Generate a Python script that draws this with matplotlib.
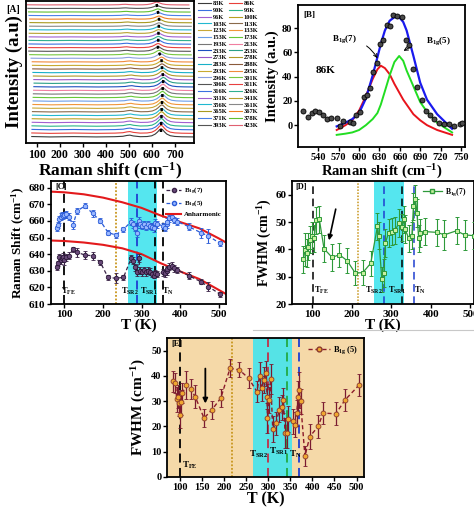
import numpy as np
import matplotlib
matplotlib.use("Agg")
import matplotlib.pyplot as plt
from matplotlib.lines import Line2D

plt.rcParams['font.family'] = ['Liberation Serif', 'DejaVu Serif']
plt.rcParams['font.weight'] = 'bold'
plt.rcParams['axes.labelweight'] = 'bold'
plt.rcParams['mathtext.fontset'] = 'custom'
plt.rcParams['mathtext.rm'] = 'Liberation Serif:bold'
plt.rcParams['mathtext.it'] = 'Liberation Serif:bold'
plt.rcParams['mathtext.bf'] = 'Liberation Serif:bold'
plt.rcParams['axes.linewidth'] = 1.3

# ---------------- data ----------------
# [A] stacked spectra
temps_A = [83, 86, 90, 93, 96, 100, 103, 113, 123, 133, 153, 173, 193, 213, 233, 253, 273, 278, 283,
           288, 293, 295, 296, 301, 306, 311, 316, 326, 331, 341, 356, 361, 365, 367, 371, 378, 393, 423]
centers_A = [639, 639, 640, 640, 641, 641, 642, 642, 643, 644, 645, 645, 646, 647, 648, 649, 648, 646, 644,
             643, 642, 641, 636, 630, 626, 626, 627, 627, 628, 628, 629, 630, 631, 630, 627, 625, 622, 620]
amps_A = [2.3, 2.3, 2.2, 2.2, 2.1, 2.1, 2.0, 2.0, 2.0, 1.9, 1.9, 1.8, 1.8, 1.8, 1.7, 1.7, 1.6, 1.6, 1.5,
          1.5, 1.4, 1.4, 1.4, 1.3, 1.3, 1.2, 1.2, 1.2, 1.1, 1.1, 1.0, 1.0, 1.0, 0.9, 0.9, 0.9, 0.8, 0.8]
prof_x = [80, 160, 260, 360, 440, 475, 492, 505, 520, 550, 580, 600, 615, 625, 633, 640, 647, 655, 665,
          680, 700, 730, 780]
prof_y = [0.05, 0.0, 0.04, 0.0, 0.03, 0.08, 0.18, 0.22, 0.12, 0.03, 0.05, 0.14, 0.35, 0.6, 0.85, 1.0, 0.88,
          0.62, 0.35, 0.15, 0.06, 0.02, 0.0]
colors_A = ['#3a3a3a', '#e8403a', '#3a6fe0', '#2bb58a', '#a25fd0', '#b8a020', '#22b8d0', '#8a6a4a',
            '#c8a838', '#f0963a', '#6c9ee8', '#66c838', '#777777', '#f07fa0', '#1e4fc0', '#2aa088',
            '#9a58c8', '#b09a28', '#18b0c8', '#8a5a3a', '#c8aa30', '#f08a3a', '#8aa0e0', '#78c840',
            '#555555', '#e84040', '#3a70e0', '#30b090', '#a060d0', '#b8a030', '#20b8d0', '#888888',
            '#a89a20', '#f08020', '#4a80e8', '#60c030', '#555555', '#e06070']

# [B] 86K fit
B_x = [518, 525, 530, 535, 541, 547, 552, 558, 567, 572, 577, 586, 591, 596, 601, 607, 612, 616, 621, 626,
       631, 635, 641, 646, 650, 656, 663, 669, 674, 680, 686, 693, 699, 705, 711, 718, 725, 733, 740, 748, 752]
B_y = [11.5, 7, 10, 12, 11, 8, 5, 5.5, 5.5, -1, 3.5, 3, 2, 8, 11, 23, 25, 31, 44, 51,
       67, 70, 82.7, 82, 91, 90, 89, 70, 66, 46.5, 31.5, 20.5, 12, 8, 4.7, 1.4, 1, 1, -1, 1, 2]
fit_x = [567, 580, 590, 600, 610, 620, 627, 632, 638, 645, 652, 659, 665, 670, 680, 690, 700, 715, 737]
fit_red = [-4, 0, 4, 12, 24, 38, 46, 49, 47, 42, 34, 27, 21, 17, 9, 4, 0, -4, -8]
fit_green = [-8, -7, -6, -4, 0, 5, 10, 17, 28, 41, 52, 57, 53, 45, 32, 19, 11, 2, -6]
fit_blue = [-1, 2, 5, 10, 22, 41, 56, 67, 78, 86, 89, 89, 85, 78, 57, 35, 21, 9, -3]

# [C] Raman shift vs T
T_C = [81, 84, 87, 90, 93, 96, 100, 104, 111, 122, 133, 153, 173, 193, 213, 233, 253, 273, 278, 283,
       288, 293, 296, 301, 306, 311, 316, 321, 326, 331, 336, 341, 356, 361, 365, 367, 371, 378, 385, 393,
       423, 453, 473, 503]
S7 = [632, 634.5, 638, 636.5, 637.5, 638.5, 636.5, 638, 639, 643, 641, 639.5, 639, 635, 626, 625.5, 626,
      637.5, 636, 632, 629.5, 637.5, 630, 629, 630.5, 629, 630, 629.5, 628, 627, 628.5, 628, 629, 628.5,
      630, 631, 632.5, 633, 631.5, 630.5, 627, 623.5, 620.5, 616]
err7 = [1.5, 1.5, 2, 2.5, 2, 2, 3, 2, 2, 1.5, 2.5, 2.5, 2.5, 1.5, 1.5, 3, 1.5, 2, 2, 2, 2.5, 2.5, 2, 2,
        2, 2, 2, 2, 2, 1.5, 2, 2, 2, 2, 2.5, 2, 2, 2, 2, 2, 2, 1.5, 2.5, 1.5]
S5 = [655.5, 657.5, 661, 662.5, 663.5, 663, 663.5, 664, 662.5, 657.5, 666, 669, 664.5, 660, 653, 651.5,
      655, 659.5, 658, 656, 653, 660, 658, 657, 658, 656.5, 658, 657, 656.5, 655.5, 659, 658, 657, 656,
      658, 659.5, 661.5, 662.5, 660.5, 659.5, 656.5, 653, 651, 646.5]
err5 = [1.5, 2, 2, 2, 2, 2, 2, 2, 2, 2.5, 2, 1.5, 2, 1.5, 1.5, 1.5, 1.5, 2, 2, 2, 2.5, 2.5, 2, 2, 2, 2,
        2, 2, 2, 2, 2, 2, 2, 2, 2, 2, 2, 2, 2, 2, 2, 3, 4, 1.5]
T_anh = [65, 100, 150, 200, 250, 300, 350, 400, 450, 500, 519]
anh_upper = [677.6, 677.2, 676, 674, 671.2, 667.8, 663.2, 659.3, 655.5, 649.5, 647]
anh_lower = [648.2, 647.9, 647, 645.6, 643.5, 640, 634.5, 629.6, 625, 618.5, 616]

# [D] FWHM B1g(7)
T_D = [78, 82, 86, 90, 95, 99, 105, 110, 118, 130, 150, 169, 188, 209, 228, 248, 265, 268, 276, 281,
       285, 293, 302, 310, 319, 327, 331, 335, 344, 352, 356, 361, 365, 369, 373, 384, 416, 434, 465, 485, 508]
W_D = [36.4, 39.8, 38.6, 41, 43.5, 45, 44, 50.6, 51, 40.2, 37.1, 38, 35.9, 31.3, 31.5, 34.9, 48.4, 45,
       29, 31.3, 42.3, 46, 46.5, 47, 49.6, 48.1, 51, 47.4, 44, 45, 55.7, 58.4, 53.3, 44, 46, 46.5, 46.2,
       45.3, 46.8, 45.3, 45]
err_D = [5, 6, 5, 5, 5, 5, 5, 5, 5, 5, 5, 4.5, 4.5, 4.5, 4.5, 4.5, 5, 5, 4.5, 5,
         5, 5, 5, 5, 5, 5, 5, 5, 5, 5, 5, 5, 5, 5, 5, 5, 5, 5.5, 5, 5.5, 5]

# [E] FWHM B1g(5)
T_E = [83, 89, 92, 96, 98, 100, 101, 105, 114, 124, 134, 154, 172, 192, 213, 234, 255, 274, 280, 285,
       290, 295, 297, 298, 302, 305, 310, 317, 325, 330, 334, 338, 343, 345, 355, 360, 364, 368, 370, 373,
       383, 394, 413, 424, 453, 474, 506]
W_E = [37.8, 37.1, 30.8, 31.8, 29.2, 24.5, 29.5, 33.2, 36.4, 34.7, 31.8, 23.3, 26.6, 31.2, 43, 42.4,
       39.1, 33.8, 40, 35.1, 38.4, 41, 31.8, 23.3, 30.5, 38.7, 19, 21.3, 26.6, 27.6, 30.3, 17.4, 17.4,
       22.9, 22, 20.7, 25.3, 31.8, 34.5, 29.9, 8.2, 16, 20, 25.3, 25, 30.5, 36.4]
err_E = [4, 4, 5, 4.5, 5, 5, 5, 4, 5.5, 4, 4.5, 3.5, 3.5, 3.5, 3.5, 3, 4, 4, 5.5, 5,
         5, 5, 5, 6, 5, 6, 5, 4.5, 5, 5, 5, 6, 6, 5, 5, 5, 5, 6, 7, 5,
         4, 5, 4.5, 4.5, 4.5, 4.5, 4.5]

W, H = 474, 519
fig = plt.figure(figsize=(W / 100, H / 100), dpi=100)


def box(l, t, r, b):
    return [l / W, 1 - b / H, (r - l) / W, (b - t) / H]


def style(ax, size=7):
    ax.tick_params(direction='out', length=3, width=1.0, labelsize=size, pad=1,
                   top=False, right=False)
    for lab in ax.get_xticklabels() + ax.get_yticklabels():
        lab.set_fontweight('bold')


# ---------------- [A] ----------------
axA = fig.add_axes(box(26, 1, 194, 143))
for i, (t, c, a) in enumerate(zip(temps_A, centers_A, amps_A)):
    xs = np.array(prof_x) + (c - 640)
    ys = i + a * np.array(prof_y)
    axA.plot(xs, ys, color=colors_A[i], lw=0.8, label=f'{t}K')
peak_y = np.arange(len(temps_A)) + 0.6 * np.array(amps_A)
axA.plot(centers_A, peak_y, color='k', lw=1.8, ls=(0, (1.2, 1.6)))
axA.annotate('', xy=(centers_A[-1] - 2, peak_y[-1] + 0.8), xytext=(centers_A[-2], peak_y[-2]),
             arrowprops=dict(arrowstyle='-|>', color='k', lw=1.2, mutation_scale=6))
axA.set_xlim(54, 782)
axA.set_ylim(-1.7, 38.1)
axA.set_yticks([])
axA.set_xticks(range(100, 701, 100))
style(axA, 8.5)
axA.set_ylabel('Intensity (a.u)', fontsize=13.5, labelpad=2)
axA.set_xlabel('Raman shift (cm$^{-1}$)', fontsize=12.5, labelpad=0)
fig.text(13 / W, 1 - 9 / H, '[A]', fontsize=7, fontweight='bold', ha='center', va='center')

h, l = axA.get_legend_handles_labels()
fig.legend(h[0::2] + h[1::2], l[0::2] + l[1::2], ncol=2, loc='upper left',
           bbox_to_anchor=(198 / W, 1 - 1 / H), prop={'size': 4.6, 'weight': 'bold'},
           frameon=False, handlelength=2.0, handletextpad=0.3, columnspacing=0.3,
           labelspacing=0.2, borderpad=0, borderaxespad=0)

# ---------------- [B] ----------------
axB = fig.add_axes(box(298, 5, 465, 147))
axB.plot(fit_x, fit_red, color='#e8141c', lw=1.4)
axB.plot(fit_x, fit_green, color='#22dd22', lw=1.4)
axB.plot(fit_x, fit_blue, color='#1a1aee', lw=1.6)
axB.scatter(B_x, B_y, s=13, facecolor='#4a4a4a', edgecolor='k', lw=0.6, zorder=3)
axB.set_xlim(510, 756)
axB.set_ylim(-18, 99)
axB.set_xticks(range(540, 751, 30))
axB.set_yticks(range(0, 81, 20))
style(axB, 7.5)
axB.set_ylabel('Intensity (a.u.)', fontsize=10.5, labelpad=2)
axB.set_xlabel('Raman shift (cm$^{-1}$)', fontsize=10.5, labelpad=1)
axB.text(0.03, 0.96, '[B]', transform=axB.transAxes, fontsize=6.5, va='top')
axB.text(550, 44.7, '86K', fontsize=8, ha='center', va='center')
axB.annotate('B$_{1g}$(7)', xy=(629, 53), xytext=(578, 71), fontsize=6.5, ha='center', va='center',
             arrowprops=dict(arrowstyle='->', color='k', lw=0.7, connectionstyle='arc3,rad=-0.3',
                             shrinkA=6))
axB.annotate('B$_{1g}$(5)', xy=(662, 60), xytext=(717, 69), fontsize=6.5, ha='center', va='center',
             arrowprops=dict(arrowstyle='->', color='k', lw=0.7, connectionstyle='arc3,rad=0.15',
                             shrinkA=10))

# ---------------- [C] ----------------
axC = fig.add_axes(box(51, 181, 226, 304))
axC.axvspan(266, 341, color='#55e6ef', zorder=0, lw=0)
for x, c, ls in [(100, 'k', (0, (5, 3))), (233, '#c8961e', (0, (1, 1))), (289, '#1f3fd0', (0, (5, 3))),
                 (334, 'k', (0, (5, 3))), (356, 'k', (0, (5, 3)))]:
    axC.axvline(x, color=c, ls=ls, lw=1.3, zorder=1)
axC.plot(T_anh, anh_upper, color='#e31a1c', lw=1.5, zorder=2)
axC.plot(T_anh, anh_lower, color='#e31a1c', lw=1.5, zorder=2)
axC.errorbar(T_C, S7, yerr=err7, color='#3b2448', ls=(0, (3, 2)), lw=0.9, marker='o', ms=3.2,
             mfc='#6a4a7a', mec='#2a1838', mew=0.6, capsize=1.5, elinewidth=0.8, zorder=3)
axC.errorbar(T_C, S5, yerr=err5, color='#2a5bd7', ls=(0, (3, 2)), lw=0.9, marker='o', ms=3.2,
             mfc='#9ab8ff', mec='#2a5bd7', mew=0.6, capsize=1.5, elinewidth=0.8, zorder=3)
axC.set_xlim(65, 519)
axC.set_ylim(610, 684)
axC.set_xticks([100, 200, 300, 400, 500])
axC.set_yticks(range(610, 681, 10))
style(axC, 8)
axC.set_ylabel('Raman Shift (cm$^{-1}$)', fontsize=9.5, labelpad=1)
axC.set_xlabel('T (K)', fontsize=11, labelpad=0)
axC.text(0.025, 0.985, '[C]', transform=axC.transAxes, fontsize=6, va='top')
for x, s in [(110, 'T$_{FE}$'), (270, 'T$_{SR2}$'), (318, 'T$_{SR1}$'), (368, 'T$_{N}$')]:
    axC.text(x, 617.5, s, fontsize=6, ha='center', va='center')
legC = [Line2D([], [], color='#3b2448', ls=(0, (3, 2)), marker='o', ms=3, mfc='#6a4a7a', lw=0.9),
        Line2D([], [], color='#2a5bd7', ls=(0, (3, 2)), marker='o', ms=3, mfc='#9ab8ff', lw=0.9),
        Line2D([], [], color='#e31a1c', lw=1.5)]
axC.legend(legC, ['B$_{1g}$(7)', 'B$_{1g}$(5)', 'Anharmonic'], loc='upper right',
           prop={'size': 5, 'weight': 'bold'}, frameon=False, handlelength=2.2,
           handletextpad=0.4, labelspacing=0.35, borderaxespad=0.2)

# ---------------- [D] ----------------
axD = fig.add_axes(box(292, 181, 474, 304))
axD.axvspan(255, 331, color='#55e6ef', zorder=0, lw=0)
for x, c, ls in [(103, 'k', (0, (5, 3))), (215, '#c8961e', (0, (1, 1))), (281, '#1f3fd0', (0, (5, 3))),
                 (327, 'k', (0, (5, 3))), (357, '#1f3fd0', (0, (5, 3)))]:
    axD.axvline(x, color=c, ls=ls, lw=1.1, zorder=1)
axD.errorbar(T_D, W_D, yerr=err_D, color='#2e9a3a', lw=0.9, marker='s', ms=3.2, mfc='#c8f0a0',
             mec='#2e9a3a', mew=0.7, capsize=1.5, elinewidth=0.8, zorder=3)
axD.annotate('', xy=(141, 42.3), xytext=(161, 55.7),
             arrowprops=dict(arrowstyle='-|>', color='k', lw=1.2, mutation_scale=7))
axD.set_xlim(49, 509)
axD.set_ylim(20, 65)
axD.set_xticks([100, 200, 300, 400, 500])
axD.set_yticks(range(20, 61, 10))
style(axD, 8)
axD.set_ylabel('FWHM (cm$^{-1}$)', fontsize=10, labelpad=1)
axD.set_xlabel('T (K)', fontsize=11, labelpad=0)
axD.text(0.02, 0.985, '[D]', transform=axD.transAxes, fontsize=6, va='top')
for x, s in [(124, 'T$_{FE}$'), (255, 'T$_{SR2}$'), (314, 'T$_{SR1}$'), (373, 'T$_{N}$')]:
    axD.text(x, 25, s, fontsize=6, ha='center', va='center')
axD.legend([Line2D([], [], color='#2e9a3a', marker='s', ms=3, mfc='#c8f0a0', lw=0.9)],
           ['B$_{1g}$(7)'], loc='upper right', prop={'size': 5.5, 'weight': 'bold'}, frameon=False,
           handlelength=2.4, handletextpad=0.4, borderaxespad=0.3, bbox_to_anchor=(0.985, 1))
fig.add_artist(Line2D([253 / W, 1], [1 - 330 / H, 1 - 330 / H], color='#c8c8c8', lw=0.8))

# ---------------- [E] ----------------
axE = fig.add_axes(box(167, 338, 364, 477))
axE.set_facecolor('#f5d9a8')
axE.axvspan(264.5, 353.6, color='#55e3e6', zorder=0, lw=0)
for x, c, ls in [(100, 'k', (0, (5, 3))), (218.5, '#c8961e', (0, (1, 1))), (298.5, '#c0304a', (0, (5, 3))),
                 (341.5, '#22aa44', (0, (5, 3))), (369, '#1f3fd0', (0, (5, 3)))]:
    axE.axvline(x, color=c, ls=ls, lw=1.3, zorder=1)
axE.errorbar(T_E, W_E, yerr=err_E, color='#8b1a2a', ls=(0, (3, 2)), lw=1.0, marker='o', ms=3.5,
             mfc='#f0a830', mec='#8b3a2a', mew=0.6, capsize=1.5, elinewidth=0.9, ecolor='#7a1a30',
             zorder=3)
axE.annotate('', xy=(157, 28), xytext=(157, 44),
             arrowprops=dict(arrowstyle='-|>', color='k', lw=1.3, mutation_scale=7))
axE.set_xlim(70, 517)
axE.set_ylim(0, 55)
axE.set_xticks(range(100, 501, 50))
axE.set_yticks(range(0, 51, 10))
style(axE, 7.5)
axE.set_ylabel('FWHM (cm$^{-1}$)', fontsize=11, labelpad=2)
axE.set_xlabel('T (K)', fontsize=11.5, labelpad=0)
axE.text(0.02, 0.985, '[E]', transform=axE.transAxes, fontsize=6, va='top')
for x, y, s in [(123, 4.5, 'T$_{FE}$'), (277, 9, 'T$_{SR2}$'), (322, 10, 'T$_{SR1}$'),
                (362, 9, 'T$_{N}$')]:
    axE.text(x, y, s, fontsize=6.5, ha='center', va='center')
axE.legend([Line2D([], [], color='#8b1a2a', ls=(0, (3, 2)), marker='o', ms=3.5, mfc='#f0a830',
                   mec='#8b3a2a', lw=1.0)],
           ['B$_{1g}$ (5)'], loc='upper right', prop={'size': 6, 'weight': 'bold'}, frameon=False,
           handlelength=2.6, handletextpad=0.4, borderaxespad=0.3)

fig.savefig('out.png', dpi=100)
